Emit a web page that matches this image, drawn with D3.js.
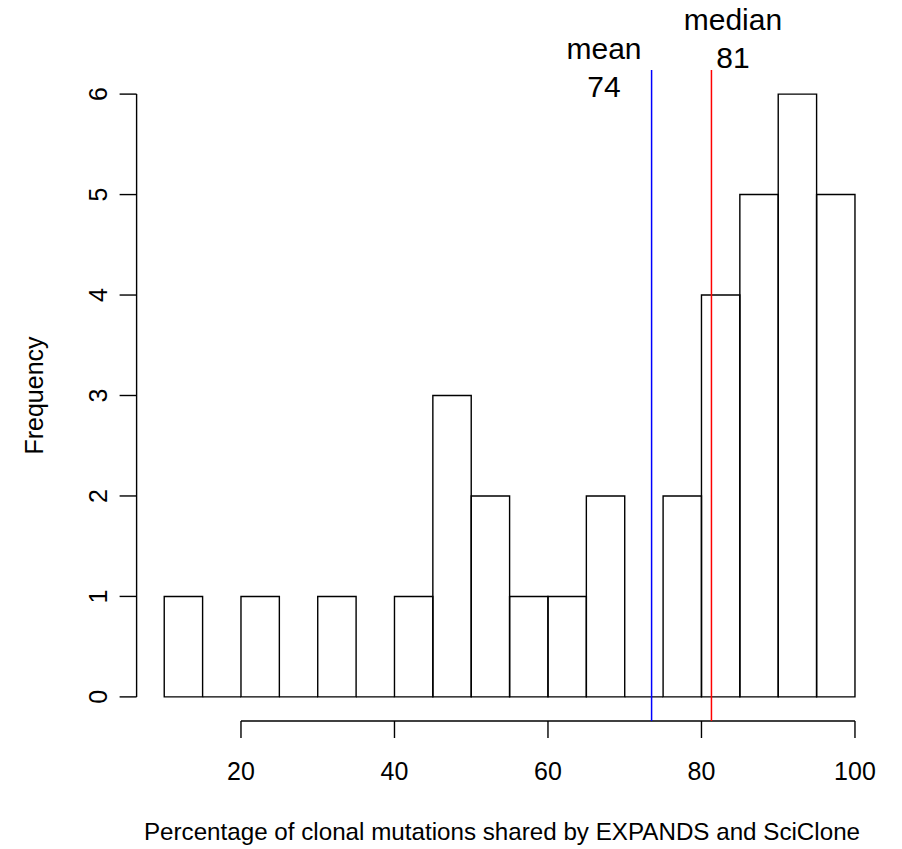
<!DOCTYPE html>
<meta charset='utf-8'>
<style type="text/css">
	body { margin: 0; background: #fff; }
	svg text { font-family: "Liberation Sans", Arial, sans-serif; fill: #000; }
</style>
<body>
<div class="chart"></div>
<script src="https://cdn.jsdelivr.net/npm/d3@7/dist/d3.min.js"></script>
<script>

// histogram bins (width 5) and their counts
var binStarts = [10, 15, 20, 25, 30, 35, 40, 45, 50, 55, 60, 65, 70, 75, 80, 85, 90, 95];
var counts    = [ 1,  0,  1,  0,  1,  0,  1,  3,  2,  1,  1,  2,  0,  2,  4,  5,  6,  5];
var binWidth = 5;

var xTicks = [20, 40, 60, 80, 100];
var yTicks = [0, 1, 2, 3, 4, 5, 6];

// reference lines: value, colour, label lines, label position (data units)
var refNames  = ['mean', 'median'];
var refValues = [73.5, 81.3];
var refLabels = [['mean', '74'], ['median', '81']];
var refColors = ['blue', 'red'];
var labelX    = [67.3, 84.1];
var labelY    = [6.16, 6.45];

var xTitle = 'Percentage of clonal mutations shared by EXPANDS and SciClone';
var yTitle = 'Frequency';

var width = 902, height = 849;

var svg = d3.select('.chart')
	.append('svg')
	.attr('width', width)
	.attr('height', height);

// R style: data range padded by 4%
var x = d3.scaleLinear().domain([6.4, 103.6]).range([136.6, 882.6]);
var y = d3.scaleLinear().domain([-0.24, 6.24]).range([721, 70]);

// bars (paths so that empty bins still draw their bottom edge)
svg.selectAll('path.bar')
	.data(counts)
	.enter().append('path')
	.attr('class', 'bar')
	.attr('d', function(d, i){
		var x0 = x(binStarts[i]), x1 = x(binStarts[i] + binWidth);
		var y0 = y(0), y1 = y(d);
		return 'M' + x0 + ',' + y0 + 'L' + x1 + ',' + y0 + 'L' + x1 + ',' + y1 +
			'L' + x0 + ',' + y1 + 'Z';
	})
	.attr('fill', 'none')
	.attr('stroke', '#000')
	.attr('stroke-width', 1.4);

// y axis
var yAxis = svg.append('g').attr('transform', 'translate(' + x.range()[0] + ',0)');
yAxis.append('line')
	.attr('x1', 0).attr('x2', 0)
	.attr('y1', y(0)).attr('y2', y(6))
	.attr('stroke', '#000').attr('stroke-width', 1.4);
yAxis.selectAll('line.tick')
	.data(yTicks).enter().append('line')
	.attr('class', 'tick')
	.attr('x1', 0).attr('x2', -17)
	.attr('y1', function(d){ return y(d); })
	.attr('y2', function(d){ return y(d); })
	.attr('stroke', '#000').attr('stroke-width', 1.4);
yAxis.selectAll('text')
	.data(yTicks).enter().append('text')
	.attr('transform', function(d){ return 'translate(-30,' + y(d) + ') rotate(-90)'; })
	.attr('text-anchor', 'middle')
	.attr('font-size', 25)
	.text(function(d){ return d; });

// x axis
var xAxis = svg.append('g').attr('transform', 'translate(0,' + y.range()[0] + ')');
xAxis.append('line')
	.attr('x1', x(20)).attr('x2', x(100))
	.attr('y1', 0).attr('y2', 0)
	.attr('stroke', '#000').attr('stroke-width', 1.4);
xAxis.selectAll('line.tick')
	.data(xTicks).enter().append('line')
	.attr('class', 'tick')
	.attr('x1', function(d){ return x(d); })
	.attr('x2', function(d){ return x(d); })
	.attr('y1', 0).attr('y2', 17)
	.attr('stroke', '#000').attr('stroke-width', 1.4);
xAxis.selectAll('text')
	.data(xTicks).enter().append('text')
	.attr('x', function(d){ return x(d); })
	.attr('y', 59)
	.attr('text-anchor', 'middle')
	.attr('font-size', 25)
	.text(function(d){ return d; });

// axis titles
svg.append('text')
	.attr('x', 502)
	.attr('y', 840)
	.attr('text-anchor', 'middle')
	.attr('font-size', 24.2)
	.text(xTitle);

svg.append('text')
	.attr('transform', 'translate(43,' + (y.range()[0] + y.range()[1]) / 2 + ') rotate(-90)')
	.attr('text-anchor', 'middle')
	.attr('font-size', 25)
	.text(yTitle);

// mean / median lines
svg.selectAll('line.ref')
	.data(refValues).enter().append('line')
	.attr('class', 'ref')
	.attr('x1', function(d){ return x(d); })
	.attr('x2', function(d){ return x(d); })
	.attr('y1', y.range()[0]).attr('y2', y.range()[1])
	.attr('stroke', function(d, i){ return refColors[i]; })
	.attr('stroke-width', 1.5);

// labels above the lines
refNames.forEach(function(name, i){
	var t = svg.append('text')
		.attr('class', 'ref-label ' + name)
		.attr('text-anchor', 'middle')
		.attr('font-size', 30);
	refLabels[i].forEach(function(s, j){
		t.append('tspan')
			.attr('x', x(labelX[i]))
			.attr('y', y(labelY[i]) + (j === 0 ? -19 : 19))
			.text(s);
	});
});

</script>
</body>
</html>
